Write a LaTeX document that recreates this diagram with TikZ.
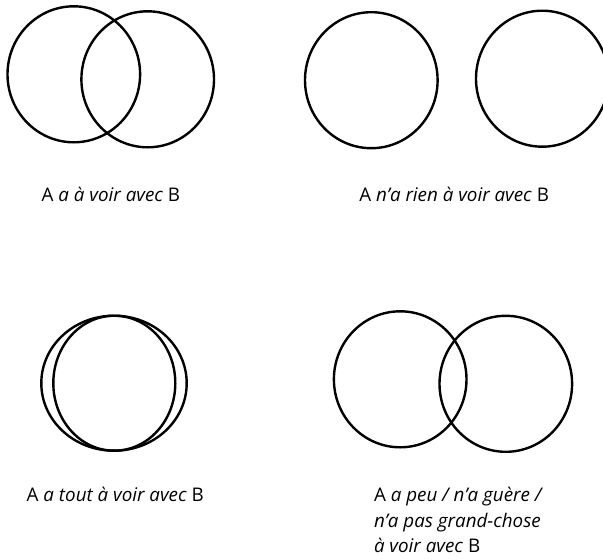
\documentclass[tikz,border=0pt]{standalone}
\usepackage{fontspec}
\setmainfont{Open Sans}
\usetikzlibrary{shapes.geometric}
\begin{document}
\begin{tikzpicture}[x=1pt,y=-1pt,
  ring/.style={ellipse,draw,line width=2.4pt,inner sep=0pt,outer sep=0pt,
    minimum width=132.6pt,minimum height=136pt},
  caption/.style={anchor=base west,inner sep=0pt,outer sep=0pt,
    font=\fontsize{18.8}{25.3}\selectfont,align=left}]
\useasboundingbox (0,0) rectangle (603,560);
\clip (0,0) rectangle (603,560);
% panel 1
\node[ring] (p1a) at (73.8,74.3) {};
\node[ring] (p1b) at (147.7,79.3) {};
\node[caption] (t1) at (41.7,201) {A \textit{a à voir avec} B};
% panel 2
\node[ring] (p2a) at (371.3,80.2) {};
\node[ring] (p2b) at (542.3,78.7) {};
\node[caption] (t2) at (359.3,201) {A \textit{n’a rien à voir avec} B};
% panel 3
\node[ring,minimum width=145.4pt,minimum height=135pt] (p3a) at (114,383.2) {};
\node[ring,minimum width=122pt,minimum height=135pt] (p3b) at (114.3,383.2) {};
\node[caption] (t3) at (26.7,501) {A \textit{a tout à voir avec} B};
% panel 4
\node[ring] (p4a) at (400.2,379.3) {};
\node[ring] (p4b) at (505.8,383.8) {};
\node[caption] (t4) at (374,552.3) {A \textit{a peu / n’a guère /}\\\textit{n’a pas grand-chose}\\\textit{à voir avec} B};
\end{tikzpicture}
\end{document}
